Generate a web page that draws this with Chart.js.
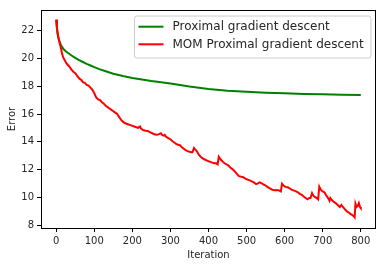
<!DOCTYPE html>
<html>
<head>
<meta charset="utf-8">
<script src="https://cdn.jsdelivr.net/npm/chart.js@4/dist/chart.umd.min.js"></script>
<style>
html,body{margin:0;padding:0;background:#fff;}
canvas{display:block;}
</style>
</head>
<body>
<canvas id="c" width="386" height="266"></canvas>
<script>
const seriesLabels = ['Proximal gradient descent', 'MOM Proximal gradient descent'];
const seriesColors = ['#008000', '#ff0000'];

const greenIter = [0,2,4,6,9,12,16,20,25,30,35,40,50,60,70,80,90,100,115,130,150,175,200,250,300,350,400,450,500,550,600,650,700,750,800];
const greenErr  = [22.8,22.1,21.7,21.45,21.2,21.0,20.8,20.65,20.52,20.42,20.33,20.22,20.05,19.88,19.75,19.62,19.5,19.38,19.22,19.08,18.9,18.74,18.6,18.38,18.2,17.98,17.8,17.68,17.6,17.54,17.49,17.45,17.42,17.39,17.37];

const redIter = [0,2,4,6,9,12,15,18,22,26,30,35,40,45,50,55,61,66,70,75,80,85,90,95,100,105,110,115,120,125,130,135,140,145,150,155,160,165,170,175,180,185,190,195,200,205,210,215,220,223,228,235,240,245,250,255,260,265,270,275,278,282,285,288,292,298,305,310,315,320,325,330,335,340,345,350,355,358,362,365,370,375,380,385,390,395,400,405,410,415,420,424,427,432,438,442,447,452,457,462,468,474,480,486,490,495,500,505,510,515,520,525,530,534,540,545,550,555,560,565,570,575,580,585,590,593,597,602,608,613,618,625,630,635,640,645,650,655,660,665,668,672,676,680,684,688,691,695,700,705,710,714,718,720,724,728,734,740,745,749,753,758,763,768,773,778,782,784,786,789,792,795,798,800];
const redErr  = [22.8,22.2,21.8,21.5,21.1,20.8,20.4,20.1,19.9,19.7,19.55,19.4,19.2,19.05,18.95,18.75,18.55,18.45,18.3,18.25,18.1,18.05,17.9,17.75,17.5,17.2,17.05,17.0,16.85,16.75,16.6,16.5,16.4,16.3,16.2,16.1,16.0,15.8,15.6,15.45,15.35,15.3,15.25,15.2,15.15,15.1,15.05,15.0,15.1,14.95,14.85,14.8,14.78,14.72,14.65,14.58,14.52,14.5,14.55,14.62,14.5,14.45,14.5,14.38,14.3,14.22,14.05,13.95,13.85,13.78,13.75,13.6,13.5,13.4,13.33,13.28,13.25,13.25,13.55,13.45,13.3,13.05,12.9,12.81,12.72,12.66,12.6,12.55,12.5,12.46,12.45,12.38,12.92,12.72,12.55,12.45,12.38,12.3,12.15,12.05,11.9,11.7,11.52,11.48,11.47,11.38,11.3,11.25,11.2,11.12,11.05,10.95,11.0,11.08,11.0,10.92,10.85,10.75,10.65,10.58,10.52,10.5,10.52,10.5,10.42,10.97,10.85,10.75,10.72,10.65,10.55,10.48,10.42,10.35,10.25,10.18,10.05,9.95,9.85,9.95,9.95,10.3,10.1,10.0,9.95,9.85,10.77,10.55,10.42,10.35,10.1,9.95,9.75,9.95,9.8,9.7,9.58,9.42,9.3,9.45,9.3,9.15,9.0,8.9,8.8,8.72,8.62,8.55,9.55,9.3,9.38,9.58,9.3,9.22];

const xTickMin = -40, xTickMax = 840, xStep = 100;
const yTickMin = 7.785, yTickMax = 23.5, yStep = 2;

const FONT = 'DejaVu Sans';
const TXT = '#262626';

const framePlugin = {
  id: 'frame',
  afterDatasetsDraw(chart) {
    const {ctx, chartArea: a} = chart;
    ctx.save();
    ctx.strokeStyle = '#000';
    ctx.lineWidth = 1;
    ctx.strokeRect(Math.round(a.left) + 0.5, Math.round(a.top) + 0.5, Math.round(a.right - a.left) - 1, Math.round(a.bottom - a.top));
    ctx.restore();
  }
};

const legendPlugin = {
  id: 'mplLegend',
  afterDraw(chart) {
    const {ctx, chartArea: a} = chart;
    const x0 = a.right - 241.5, y0 = a.top + 6, w = 236.5, h = 42;
    ctx.save();
    ctx.beginPath();
    const r = 2.5;
    ctx.moveTo(x0 + r, y0);
    ctx.lineTo(x0 + w - r, y0); ctx.arcTo(x0 + w, y0, x0 + w, y0 + r, r);
    ctx.lineTo(x0 + w, y0 + h - r); ctx.arcTo(x0 + w, y0 + h, x0 + w - r, y0 + h, r);
    ctx.lineTo(x0 + r, y0 + h); ctx.arcTo(x0, y0 + h, x0, y0 + h - r, r);
    ctx.lineTo(x0, y0 + r); ctx.arcTo(x0, y0, x0 + r, y0, r);
    ctx.closePath();
    ctx.fillStyle = 'rgba(255,255,255,0.8)';
    ctx.fill();
    ctx.strokeStyle = '#cccccc';
    ctx.lineWidth = 1;
    ctx.stroke();
    ctx.font = '12px "' + FONT + '"';
    ctx.textBaseline = 'middle';
    ctx.textAlign = 'left';
    const rows = [y0 + 10.7, y0 + 28.3];
    seriesLabels.forEach((lab, i) => {
      ctx.strokeStyle = seriesColors[i];
      ctx.lineWidth = 2;
      ctx.beginPath();
      ctx.moveTo(x0 + 4, rows[i]);
      ctx.lineTo(x0 + 29, rows[i]);
      ctx.stroke();
      ctx.fillStyle = TXT;
      ctx.fillText(lab, x0 + 38, rows[i] + 0.5);
    });
    ctx.restore();
  }
};

new Chart(document.getElementById('c'), {
  type: 'line',
  data: {
    datasets: [
      {
        label: seriesLabels[0],
        data: greenIter.map((x, i) => ({x, y: greenErr[i]})),
        borderColor: seriesColors[0],
        borderWidth: 2,
        pointRadius: 0,
        tension: 0,
        order: 2,
        fill: false
      },
      {
        label: seriesLabels[1],
        data: redIter.map((x, i) => ({x, y: redErr[i]})),
        borderColor: seriesColors[1],
        borderWidth: 2,
        pointRadius: 0,
        tension: 0,
        order: 1,
        fill: false
      }
    ]
  },
  options: {
    responsive: false,
    animation: false,
    devicePixelRatio: 1,
    layout: {padding: {left: 0, right: 10, top: 10, bottom: 0}},
    plugins: {legend: {display: false}, tooltip: {enabled: false}},
    scales: {
      x: {
        type: 'linear',
        min: xTickMin, max: xTickMax,
        afterFit(s) { s.height = 38; },
        border: {display: false},
        grid: {drawOnChartArea: false, drawTicks: true, tickLength: 4, color: '#000', tickColor: '#000'},
        ticks: {stepSize: xStep, includeBounds: false, padding: 3, color: TXT, font: {family: FONT, size: 10}, maxRotation: 0},
        title: {display: true, text: 'Iteration', color: TXT, font: {family: FONT, size: 10}, padding: {top: 0, bottom: 5}}
      },
      y: {
        type: 'linear',
        min: yTickMin, max: yTickMax,
        afterFit(s) { s.width = 41; },
        border: {display: false},
        grid: {drawOnChartArea: false, drawTicks: true, tickLength: 4, color: '#000', tickColor: '#000'},
        ticks: {stepSize: yStep, includeBounds: false, padding: 3, color: TXT, font: {family: FONT, size: 10}},
        title: {display: true, text: 'Error', color: TXT, font: {family: FONT, size: 10}, padding: {top: 6, bottom: 0}}
      }
    }
  },
  plugins: [framePlugin, legendPlugin]
});
</script>
</body>
</html>
